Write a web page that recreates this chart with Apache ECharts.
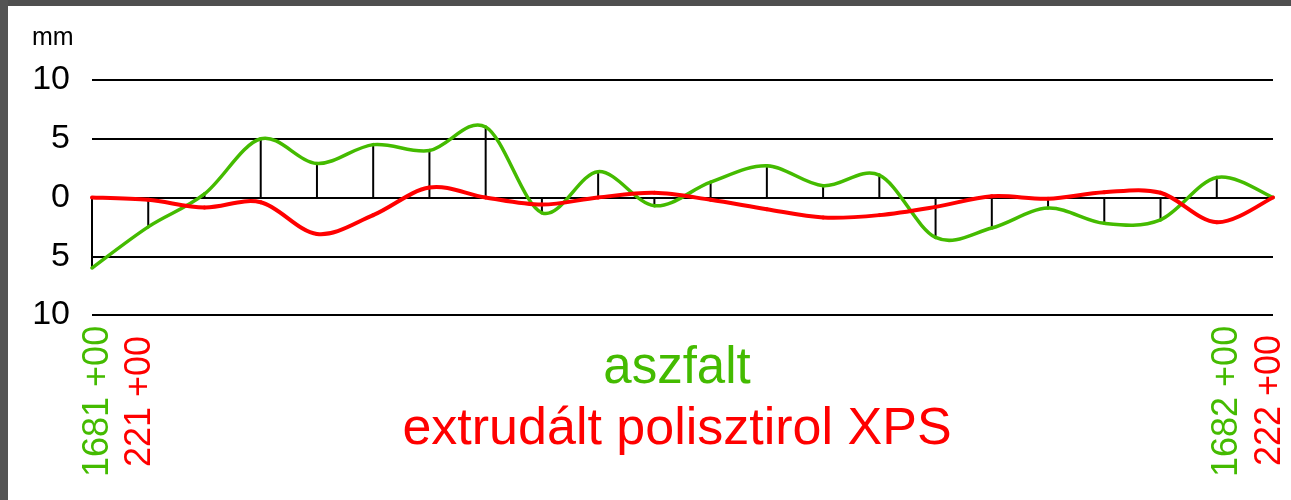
<!DOCTYPE html>
<html>
<head>
<meta charset="utf-8">
<script src="https://cdn.jsdelivr.net/npm/echarts@6/dist/echarts.min.js"></script>
<style>
html,body{margin:0;padding:0;background:#fff;}
#c{width:1291px;height:500px;}
</style>
</head>
<body>
<div id="c"></div>
<script>
// Station indices (measurement points along the road)
var stations = [0,1,2,3,4,5,6,7,8,9,10,11,12,13,14,15,16,17,18,19,20,21];
// aszfalt (green) settlement, mm
var aszfalt = [-6.0,-2.5,0.3,5.0,2.9,4.5,4.0,6.0,-1.3,2.2,-0.7,1.3,2.7,1.0,1.9,-3.4,-2.6,-0.9,-2.2,-1.9,1.7,0];
// extrudált polisztirol XPS (red), mm
var xps = [0,-0.2,-0.85,-0.4,-3.1,-1.5,0.85,0,-0.6,0,0.4,-0.2,-1.0,-1.7,-1.5,-0.8,0.1,-0.1,0.45,0.4,-2.1,0];
var yTicks = [-10,-5,0,5,10];
var yTickLabels = ['10','5','0','5','10'];
var seriesNames = ['aszfalt','extrudált polisztirol XPS'];
var startLabels = ['1681 +00','221 +00'];
var endLabels = ['1682 +00','222 +00'];

var GREEN = '#44bb00', RED = '#ff0000';
var FONT = '"Liberation Sans", Arial, sans-serif';

function pairs(arr){ return stations.map(function(s,i){ return [s, arr[i]]; }); }

// Smooth (Catmull-Rom) curve segment through the data, positioned with the chart's own axes
function splineRenderer(arr, color, width){
  return function(params, api){
    var i = params.dataIndex, n = stations.length;
    if (i >= n - 1) return null;
    var c = function(j){ j = Math.max(0, Math.min(n - 1, j)); return api.coord([stations[j], arr[j]]); };
    var p0 = c(i - 1), p1 = api.coord([api.value(0), api.value(1)]), p2 = c(i + 1), p3 = c(i + 2);
    return {
      type: 'bezierCurve',
      shape: {
        x1: p1[0], y1: p1[1], x2: p2[0], y2: p2[1],
        cpx1: p1[0] + (p2[0] - p0[0]) / 6, cpy1: p1[1] + (p2[1] - p0[1]) / 6,
        cpx2: p2[0] - (p3[0] - p1[0]) / 6, cpy2: p2[1] - (p3[1] - p1[1]) / 6
      },
      style: {stroke: color, lineWidth: width, fill: null, lineCap: 'round'}
    };
  };
}

var chart = echarts.init(document.getElementById('c'));
chart.setOption({
  backgroundColor: '#ffffff',
  animation: false,
  grid: {left: 92, right: 18, top: 80, bottom: 185, containLabel: false},
  xAxis: {
    type: 'value', min: stations[0], max: stations[stations.length-1],
    axisLine: {show: false}, axisTick: {show: false}, axisLabel: {show: false}, splitLine: {show: false}
  },
  yAxis: {
    type: 'value', min: -10, max: 10, interval: 5,
    axisLine: {show: false}, axisTick: {show: false},
    axisLabel: {
      margin: 22, color: '#000', fontSize: 34, fontFamily: FONT,
      formatter: function(v){ var i = yTicks.indexOf(v); return i >= 0 ? yTickLabels[i] : ''; }
    },
    splitLine: {show: true, lineStyle: {color: '#000', width: 2}}
  },
  series: [
    {
      type: 'bar', data: pairs(aszfalt), barWidth: 2, silent: true,
      itemStyle: {color: '#000'}, z: 1
    },
    {
      name: seriesNames[0], type: 'custom', data: pairs(aszfalt), clip: false, silent: true,
      encode: {x: 0, y: 1}, renderItem: splineRenderer(aszfalt, GREEN, 3.5), z: 2
    },
    {
      name: seriesNames[1], type: 'custom', data: pairs(xps), clip: false, silent: true,
      encode: {x: 0, y: 1}, renderItem: splineRenderer(xps, RED, 4), z: 3
    }
  ],
  graphic: [
    {type: 'rect', shape: {x: 0, y: 0, width: 1291, height: 6}, style: {fill: '#4f4f4f'}, z: 100},
    {type: 'rect', shape: {x: 0, y: 0, width: 8, height: 500}, style: {fill: '#545454'}, z: 100},
    {type: 'text', x: 32, y: 38, style: {text: 'mm', fill: '#000', font: '25px ' + FONT, textAlign: 'left', textVerticalAlign: 'middle'}},
    {type: 'text', x: 677, y: 369, style: {text: seriesNames[0], fill: GREEN, font: '51px ' + FONT, textAlign: 'center', textVerticalAlign: 'middle'}},
    {type: 'text', x: 677, y: 430, style: {text: seriesNames[1], fill: RED, font: '52px ' + FONT, textAlign: 'center', textVerticalAlign: 'middle'}},
    {type: 'text', x: 98, y: 477, rotation: Math.PI/2, style: {text: startLabels[0], fill: GREEN, font: '36px ' + FONT, textAlign: 'left', textVerticalAlign: 'middle'}},
    {type: 'text', x: 140, y: 467, rotation: Math.PI/2, style: {text: startLabels[1], fill: RED, font: '36px ' + FONT, textAlign: 'left', textVerticalAlign: 'middle'}},
    {type: 'text', x: 1227, y: 477, rotation: Math.PI/2, style: {text: endLabels[0], fill: GREEN, font: '36px ' + FONT, textAlign: 'left', textVerticalAlign: 'middle'}},
    {type: 'text', x: 1270, y: 466, rotation: Math.PI/2, style: {text: endLabels[1], fill: RED, font: '36px ' + FONT, textAlign: 'left', textVerticalAlign: 'middle'}}
  ]
});
</script>
</body>
</html>
